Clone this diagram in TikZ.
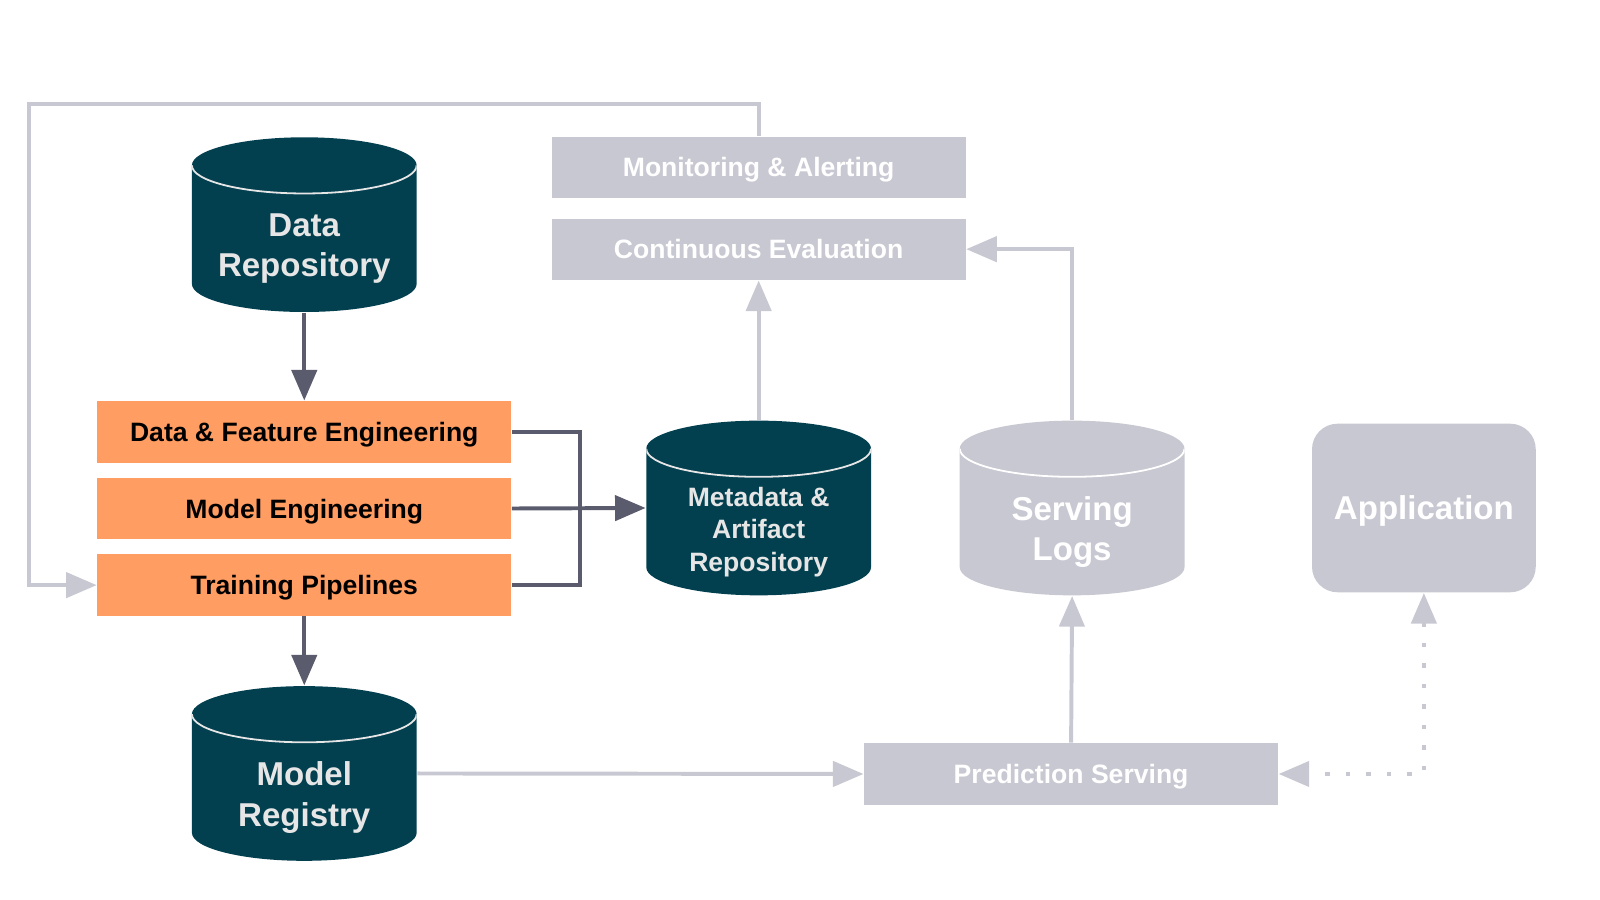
\documentclass[tikz,border=0pt]{standalone}
\usepackage{fontspec}
\setmainfont{Liberation Sans}
\usepackage{tikz}
\usetikzlibrary{matrix,arrows.meta}

\definecolor{repoteal}{HTML}{023F4F}
\definecolor{engorange}{HTML}{FF9D62}
\definecolor{opsgray}{HTML}{C8C8D2}
\definecolor{flowdark}{HTML}{5B5B6E}
\definecolor{repotext}{HTML}{E6E6E6}

\tikzset{
	smalltext/.style={font=\bfseries\fontsize{7.4}{9.1}\selectfont},
	bigtext/.style={font=\bfseries\fontsize{9.2}{11.3}\selectfont},
	engbox/.style={rectangle,fill=engorange,minimum width=4.05cm,minimum height=0.6cm,inner sep=0pt,smalltext,text=black,text height=5.3pt,text depth=0pt},
	opsbox/.style={rectangle,fill=opsgray,minimum width=4.05cm,minimum height=0.6cm,inner sep=0pt,smalltext,text=white,text height=5.3pt,text depth=0pt},
	repo/.style 2 args={rectangle,minimum width=2.2cm,minimum height=1.71cm,inner sep=0pt,
		path picture={
			\fill[#1] ([yshift=-2.75mm]path picture bounding box.north west) -- ([yshift=2.75mm]path picture bounding box.south west)
				arc[start angle=180,end angle=360,x radius=11mm,y radius=2.75mm]
				-- ([yshift=-2.75mm]path picture bounding box.north east)
				arc[start angle=0,end angle=180,x radius=11mm,y radius=2.75mm] -- cycle;
			\draw[#2,line width=0.5pt] ([yshift=-2.75mm]path picture bounding box.north west)
				arc[start angle=180,end angle=360,x radius=11mm,y radius=2.75mm];
		}},
	repolabel/.style={text=repotext,align=center,yshift=-0.235cm,inner sep=0pt},
	darkflow/.style={draw=flowdark,line width=1.1pt,-{Triangle[length=8.5pt,width=7pt]}},
	grayflow/.style={draw=opsgray,line width=1.1pt,-{Triangle[length=8.5pt,width=7pt]}},
}

\begin{document}
\begin{tikzpicture}[x=0.01cm,y=-0.01cm]
	\useasboundingbox (0,0) rectangle (1567,881);

	% engineering steps
	\matrix [matrix of nodes,row sep=1.5mm,inner sep=0pt,
	nodes={engbox},
	] (eng) at (298,498)
	{
	Data \& Feature Engineering\\
	Model Engineering\\
	Training Pipelines\\
	};

	% monitoring column
	\matrix [matrix of nodes,row sep=2mm,inner sep=0pt,
	nodes={opsbox},
	] (ops) at (743,204)
	{
	Monitoring \& Alerting\\
	Continuous Evaluation\\
	};

	% repositories
	\node[repo={repoteal}{repotext},label={[repolabel,bigtext]center:Data\\Repository}] (datarepo) at (298,220) {};
	\node[repo={repoteal}{repotext},label={[repolabel,smalltext]center:Metadata \&\\Artifact\\Repository}] (meta) at (743,497.5) {};
	\node[repo={repoteal}{repotext},label={[repolabel,bigtext]center:Model\\Registry}] (reg) at (298,757.5) {};
	\node[repo={opsgray}{white},label={[repolabel,bigtext,text=white]center:Serving\\Logs}] (logs) at (1050,497.5) {};

	\node[rectangle,rounded corners=0.25cm,fill=opsgray,text=white,bigtext,text height=6.6pt,text depth=0pt,minimum width=2.19cm,minimum height=1.65cm] (app) at (1394.5,497.5) {Application};
	\node[opsbox] (pred) at (1049,758) {Prediction Serving};

	\coordinate (bar) at (568,498);
	\coordinate (loop) at (28,102);

	% connectors
	\draw[darkflow] (datarepo.south) -- (eng-1-1.north);
	\draw[darkflow] (eng-3-1.south) -- (reg.north);
	\draw[draw=flowdark,line width=1.1pt] (eng-1-1.east) -| (bar) |- (eng-3-1.east);
	\draw[darkflow] (eng-2-1.east) -- (meta.west);
	\draw[grayflow] (meta.north) -- (ops-2-1.south);
	\draw[grayflow] (logs.north) |- (ops-2-1.east);
	\draw[grayflow] (ops-1-1.north) |- (loop) |- (eng-3-1.west);
	\draw[grayflow] (reg.east) -- (pred.west);
	\draw[grayflow] (pred.north) -- (logs.south);
	\draw[grayflow,{Triangle[length=8.5pt,width=7pt]}-{Triangle[length=8.5pt,width=7pt]},dash pattern=on 1.2pt off 4.5pt] (app.south) |- (pred.east);
\end{tikzpicture}
\end{document}
